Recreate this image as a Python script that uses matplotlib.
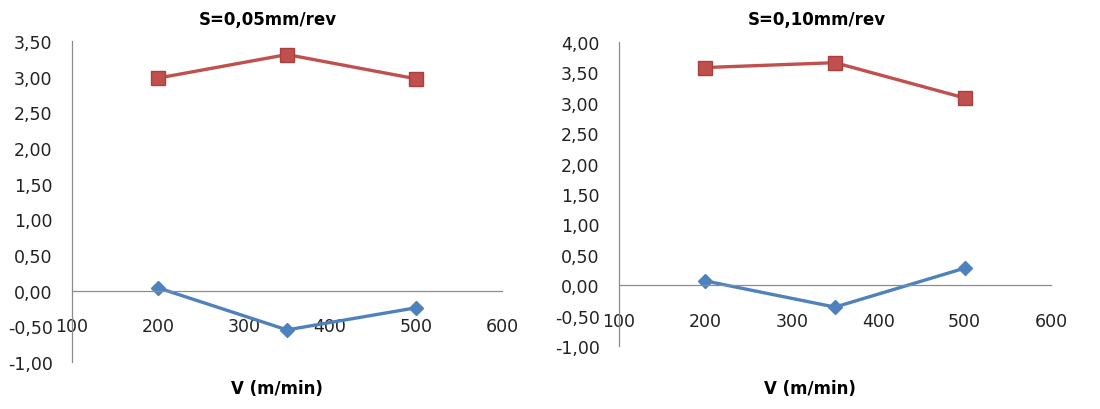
import matplotlib
matplotlib.use("Agg")
import matplotlib.pyplot as plt
from matplotlib.ticker import FuncFormatter, MultipleLocator

# cutting speed V (m/min)
speeds = [200, 350, 500]

# S = 0,05 mm/rev
red_005 = [2.98, 3.31, 2.97]
blue_005 = [0.04, -0.55, -0.24]

# S = 0,10 mm/rev
red_010 = [3.58, 3.66, 3.08]
blue_010 = [0.07, -0.36, 0.28]

titles = ["S=0,05mm/rev", "S=0,10mm/rev"]
xlabel = "V (m/min)"

RED = "#C0504D"
BLUE = "#4F81BD"
GRAY = "#8C8C8C"

W, H = 1100, 410
fig = plt.figure(figsize=(W / 100, H / 100), dpi=100)


def px_axes(x0, x1, ytop, ybot):
    # pixel box -> figure fraction
    return [x0 / W, 1 - ybot / H, (x1 - x0) / W, (ybot - ytop) / H]


ax1 = fig.add_axes(px_axes(72, 502, 42, 363))
ax2 = fig.add_axes(px_axes(619, 1051, 43, 347))

comma = FuncFormatter(lambda v, p: f"{v:.2f}".replace(".", ","))


def style(ax, ylim):
    ax.set_xlim(100, 600)
    ax.set_ylim(*ylim)
    ax.xaxis.set_major_locator(MultipleLocator(100))
    ax.yaxis.set_major_locator(MultipleLocator(0.5))
    ax.yaxis.set_major_formatter(comma)
    for s in ["top", "right"]:
        ax.spines[s].set_visible(False)
    ax.spines["bottom"].set_position(("data", 0))
    ax.spines["bottom"].set_color(GRAY)
    ax.spines["left"].set_color(GRAY)
    ax.spines["bottom"].set_linewidth(0.9)
    ax.spines["left"].set_linewidth(0.9)
    ax.tick_params(axis="x", length=0, pad=19, labelsize=12.5, colors="#222222")
    ax.tick_params(axis="y", length=0, pad=14, labelsize=12.5, colors="#222222")
    ax.patch.set_alpha(0)


for ax, red, blue, ylim in [(ax1, red_005, blue_005, (-1, 3.5)),
                            (ax2, red_010, blue_010, (-1, 4))]:
    ax.plot(speeds, red, color=RED, lw=2.4, marker="s", ms=10,
            mfc=RED, mec="#A8403D", clip_on=False)
    ax.plot(speeds, blue, color=BLUE, lw=2.4, marker="D", ms=7.5,
            mfc=BLUE, mec=BLUE, clip_on=False)
    style(ax, ylim)

fig.text(268 / W, 1 - 20 / H, titles[0], ha="center", va="center",
         fontsize=12, fontweight="bold")
fig.text(817 / W, 1 - 20 / H, titles[1], ha="center", va="center",
         fontsize=12, fontweight="bold")
fig.text(277 / W, 1 - 389 / H, xlabel, ha="center", va="center",
         fontsize=12, fontweight="bold")
fig.text(810 / W, 1 - 389 / H, xlabel, ha="center", va="center",
         fontsize=12, fontweight="bold")

fig.savefig("out.png", dpi=100)
